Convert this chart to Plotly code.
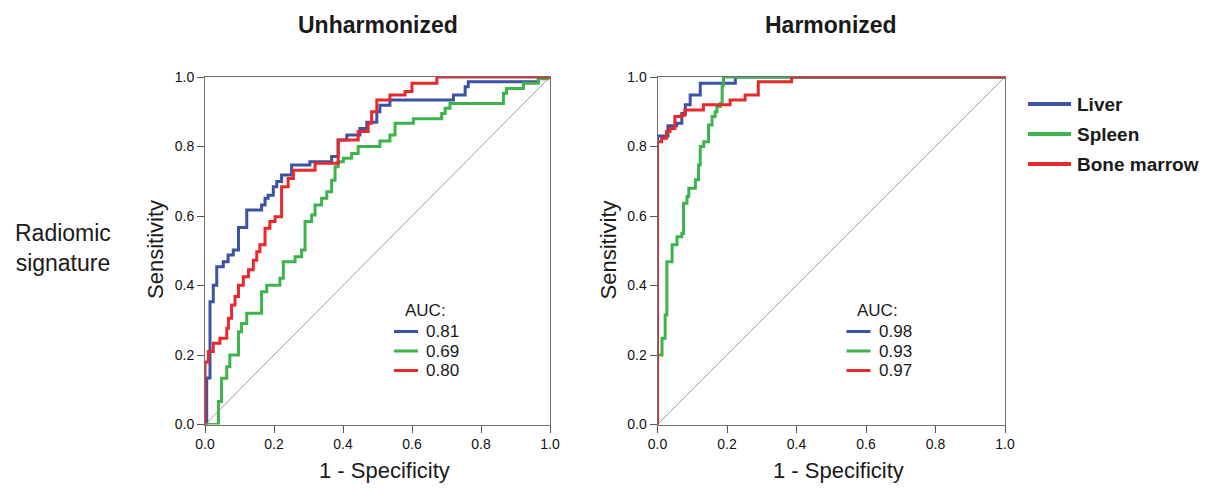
import plotly.graph_objects as go

# The page body adds an 8px margin, so the figure is drawn 8px smaller and all
# reference-pixel positions are shifted by that offset.
PAGE_OFF = 8
W, H = 1209 - PAGE_OFF, 489 - PAGE_OFF

# ---------------- data (ROC step vertices: FPR, TPR) ----------------
panels = ["Unharmonized", "Harmonized"]
series_names = ["Liver", "Spleen", "Bone marrow"]
series_colors = ["#3a53a4", "#3db44b", "#e8282d"]

unh_liver_fpr = [0, 0.005, 0.0145, 0.024, 0.034, 0.053, 0.067, 0.082, 0.097, 0.121, 0.164, 0.174, 0.183, 0.198,
                 0.208, 0.222, 0.251, 0.304, 0.367, 0.386, 0.411, 0.449, 0.469, 0.498, 0.507, 0.536, 0.72, 0.754,
                 0.763, 0.966, 1.0]
unh_liver_tpr = [0, 0.134, 0.353, 0.401, 0.454, 0.468, 0.488, 0.502, 0.567, 0.617, 0.632, 0.651, 0.66, 0.684,
                 0.699, 0.718, 0.747, 0.756, 0.771, 0.819, 0.833, 0.852, 0.87, 0.9, 0.919, 0.934, 0.948, 0.972,
                 0.986, 1.0, 1.0]

unh_spleen_fpr = [0, 0.039, 0.048, 0.063, 0.072, 0.097, 0.106, 0.121, 0.164, 0.179, 0.217, 0.227, 0.261, 0.28,
                  0.29, 0.309, 0.319, 0.338, 0.353, 0.367, 0.377, 0.386, 0.401, 0.425, 0.444, 0.507, 0.536, 0.551,
                  0.604, 0.686, 0.696, 0.71, 0.865, 0.874, 0.923, 0.966, 0.994, 1.0]
unh_spleen_tpr = [0, 0.066, 0.133, 0.166, 0.2, 0.267, 0.291, 0.32, 0.382, 0.401, 0.421, 0.468, 0.483, 0.502,
                  0.584, 0.603, 0.632, 0.651, 0.67, 0.703, 0.742, 0.756, 0.766, 0.78, 0.8, 0.816, 0.833, 0.867,
                  0.88, 0.895, 0.91, 0.924, 0.953, 0.967, 0.982, 0.995, 1.0, 1.0]

unh_bone_fpr = [0, 0, 0.0096, 0.024, 0.043, 0.063, 0.068, 0.077, 0.087, 0.097, 0.111, 0.126, 0.14, 0.15, 0.159,
                0.174, 0.188, 0.203, 0.222, 0.241, 0.256, 0.319, 0.386, 0.444, 0.473, 0.483, 0.498, 0.536, 0.58,
                0.6, 0.672, 1.0]
unh_bone_tpr = [0, 0.18, 0.21, 0.234, 0.248, 0.277, 0.306, 0.344, 0.368, 0.401, 0.425, 0.445, 0.473, 0.497, 0.517,
                0.565, 0.584, 0.598, 0.684, 0.708, 0.732, 0.752, 0.819, 0.843, 0.867, 0.9, 0.934, 0.948, 0.958,
                0.982, 1.0, 1.0]

har_liver_fpr = [0, 0, 0.03, 0.055, 0.07, 0.08, 0.094, 0.123, 0.224, 1.0]
har_liver_tpr = [0, 0.83, 0.86, 0.867, 0.895, 0.92, 0.948, 0.982, 1.0, 1.0]

har_spleen_fpr = [0, 0, 0.003, 0.013, 0.022, 0.027, 0.042, 0.056, 0.07, 0.075, 0.085, 0.09, 0.109, 0.118, 0.123,
                  0.133, 0.147, 0.157, 0.166, 0.171, 0.181, 0.186, 0.19, 1.0]
har_spleen_tpr = [0, 0.2, 0.2, 0.248, 0.315, 0.468, 0.517, 0.54, 0.55, 0.637, 0.656, 0.68, 0.704, 0.747, 0.8,
                  0.814, 0.862, 0.886, 0.9, 0.915, 0.924, 0.977, 1.0, 1.0]

har_bone_fpr = [0, 0, 0.012, 0.026, 0.036, 0.05, 0.07, 0.079, 0.132, 0.209, 0.252, 0.29, 0.386, 1.0]
har_bone_tpr = [0, 0.814, 0.824, 0.843, 0.852, 0.886, 0.89, 0.905, 0.92, 0.934, 0.948, 0.986, 1.0, 1.0]

auc_unh = ["0.81", "0.69", "0.80"]
auc_har = ["0.98", "0.93", "0.97"]

tick_vals = [0.0, 0.2, 0.4, 0.6, 0.8, 1.0]
tick_text = ["0.0", "0.2", "0.4", "0.6", "0.8", "1.0"]

# ---------------- layout geometry ----------------
FONT = "Arial, Liberation Sans, sans-serif"
TXT = "#1a1a1a"
px = lambda v: (v - PAGE_OFF) / W
py = lambda v: 1 - (v - PAGE_OFF) / H

dom_x = [[px(205), px(550)], [px(657.5), px(1005)]]
dom_y = [py(424.5), py(77)]

curves = [
    [(unh_liver_fpr, unh_liver_tpr), (unh_spleen_fpr, unh_spleen_tpr), (unh_bone_fpr, unh_bone_tpr)],
    [(har_liver_fpr, har_liver_tpr), (har_spleen_fpr, har_spleen_tpr), (har_bone_fpr, har_bone_tpr)],
]

fig = go.Figure()
for p in range(2):
    xa = "x" if p == 0 else "x2"
    ya = "y" if p == 0 else "y2"
    # diagonal reference
    fig.add_trace(go.Scatter(x=[0, 1], y=[0, 1], mode="lines", xaxis=xa, yaxis=ya,
                             line=dict(color="#9a9a9a", width=1), showlegend=False, hoverinfo="skip"))
    for s in range(3):
        fx, ty = curves[p][s]
        fig.add_trace(go.Scatter(x=fx, y=ty, mode="lines", xaxis=xa, yaxis=ya,
                                 line=dict(color=series_colors[s], width=3, shape="hv"),
                                 name=series_names[s], showlegend=False))

axis_common = dict(range=[0, 1], tickvals=tick_vals, ticktext=tick_text, ticks="outside", ticklen=7,
                   tickcolor="#555", tickwidth=1, showline=True, linecolor="#707070", linewidth=1, mirror=True,
                   showgrid=False, zeroline=False, fixedrange=True, automargin=False,
                   tickfont=dict(family=FONT, size=14, color="#111"))
fig.update_layout(
    xaxis=dict(domain=dom_x[0], anchor="y", **axis_common),
    yaxis=dict(domain=dom_y, anchor="x", **axis_common),
    xaxis2=dict(domain=dom_x[1], anchor="y2", **axis_common),
    yaxis2=dict(domain=dom_y, anchor="x2", **axis_common),
)

ann = []
shapes = []
centers = [(205 + 550) / 2, (657.5 + 1005) / 2]
for p in range(2):
    # panel titles
    ann.append(dict(text="<b>%s</b>" % panels[p], x=px(centers[p]), y=py(25), xref="paper", yref="paper",
                    showarrow=False, font=dict(family=FONT, size=23, color=TXT), xanchor="center", yanchor="middle"))
    # axis titles
    ann.append(dict(text="1 - Specificity", x=px(centers[p] + 7), y=py(470), xref="paper", yref="paper",
                    showarrow=False, font=dict(family=FONT, size=22, color=TXT), xanchor="center", yanchor="middle"))
    x0 = 205 if p == 0 else 657.5
    ann.append(dict(text="Sensitivity", x=px(x0 - 50), y=py(250), xref="paper", yref="paper", textangle=-90,
                    showarrow=False, font=dict(family=FONT, size=22, color=TXT), xanchor="center", yanchor="middle"))
    # AUC box
    off = 0 if p == 0 else 452.5
    aucs = auc_unh if p == 0 else auc_har
    ann.append(dict(text="AUC:", x=px(403 + off), y=py(310), xref="paper", yref="paper", showarrow=False,
                    font=dict(family=FONT, size=17, color=TXT), xanchor="left", yanchor="middle"))
    for s in range(3):
        yy = [331.5, 351, 370.5][s]
        shapes.append(dict(type="line", xref="paper", yref="paper", x0=px(394 + off), x1=px(418 + off),
                           y0=py(yy), y1=py(yy), line=dict(color=series_colors[s], width=3)))
        ann.append(dict(text=aucs[s], x=px(424 + off), y=py(yy), xref="paper", yref="paper", showarrow=False,
                        font=dict(family=FONT, size=17, color=TXT), xanchor="left", yanchor="middle"))

# outer legend
for s in range(3):
    yy = [104, 134, 164][s]
    shapes.append(dict(type="line", xref="paper", yref="paper", x0=px(1028), x1=px(1071),
                       y0=py(yy), y1=py(yy), line=dict(color=series_colors[s], width=4)))
    ann.append(dict(text="<b>%s</b>" % series_names[s], x=px(1075), y=py(yy), xref="paper", yref="paper",
                    showarrow=False, font=dict(family=FONT, size=19, color=TXT), xanchor="left", yanchor="middle"))

ann.append(dict(text="Radiomic<br>signature", x=px(63), y=py(248), xref="paper", yref="paper", showarrow=False,
                font=dict(family=FONT, size=23, color=TXT), xanchor="center", yanchor="middle", align="center"))

fig.update_layout(width=W, height=H, margin=dict(l=0, r=0, t=0, b=0), annotations=ann, shapes=shapes,
                  paper_bgcolor="white", plot_bgcolor="white", showlegend=False)

fig.write_html("out.html")
